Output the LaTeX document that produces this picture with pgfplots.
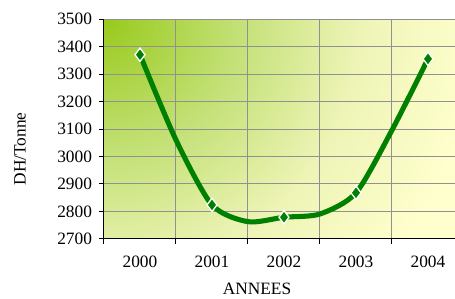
\documentclass[border=0pt]{standalone}
\usepackage{pgfplots}
\pgfplotsset{compat=1.18}
\usepackage{fontspec}
\setmainfont{Liberation Serif}
\definecolor{linegreen}{RGB}{0,128,0}
\definecolor{gridgray}{RGB}{145,145,145}
\definecolor{bgA}{RGB}{152,202,28}
\definecolor{bgB}{RGB}{196,225,120}
\definecolor{bgC}{RGB}{238,244,182}
\definecolor{bgD}{RGB}{255,255,205}
\pgfdeclareradialshading{bgshade}{\pgfpoint{0bp}{0bp}}{color(0bp)=(bgA); color(8bp)=(bgB); color(15bp)=(bgC); color(22bp)=(bgD); color(50bp)=(bgD)}
\begin{document}
\begin{tikzpicture}
\begin{axis}[
  name=ax,
  set layers,
  scale only axis,
  width=270pt, height=165pt,
  xmin=-0.5, xmax=4.5,
  ymin=2700, ymax=3500,
  xtick={-0.5,0.5,1.5,2.5,3.5,4.5},
  xticklabels={2000,2001,2002,2003,2004},
  x tick label as interval=true,
  ytick={2700,2800,...,3500},
  tick align=outside,
  major tick length=3.5pt,
  tick style={black, line width=0.75pt},
  axis x line*=bottom,
  axis y line*=left,
  axis line style={black, line width=0.75pt, -},
  grid=major,
  major grid style={gridgray, line width=0.75pt},
  /pgf/number format/assume math mode=true,
  /pgf/number format/1000 sep={},
  tick label style={font=\fontsize{13}{15}\selectfont},
  yticklabel style={xshift=-2pt},
  xticklabel style={yshift=-6pt},
  xlabel={ANNEES},
  ylabel={DH/Tonne},
  label style={font=\fontsize{13}{15}\selectfont},
  xlabel style={at={(rel axis cs:0.425,-0.228)}, anchor=center},
  ylabel style={at={(rel axis cs:-0.233,0.41)}, anchor=center, rotate=0},
  clip=false,
]
\begin{pgfonlayer}{axis background}
  \begin{scope}
    \clip (rel axis cs:0,0) rectangle (rel axis cs:1,1);
    \shade[shading=bgshade] (rel axis cs:0,1) circle[radius=320pt];
  \end{scope}
\end{pgfonlayer}
\addplot[linegreen, line width=3.8pt, smooth, tension=0.45,
  mark=diamond*, mark indices={1,3,5,7,9},
  mark options={fill=linegreen, draw=white, line width=1pt, mark size=5pt, solid}]
  coordinates {
  (0,3370) (0.5,3060) (1,2824) (1.5,2763) (2,2779) (2.5,2791) (3,2868) (3.5,3096) (4,3355)
  };
\end{axis}
\pgfresetboundingbox
\path[use as bounding box] (-78pt,-45pt) rectangle (263.25pt,179.25pt);
\end{tikzpicture}
\end{document}
